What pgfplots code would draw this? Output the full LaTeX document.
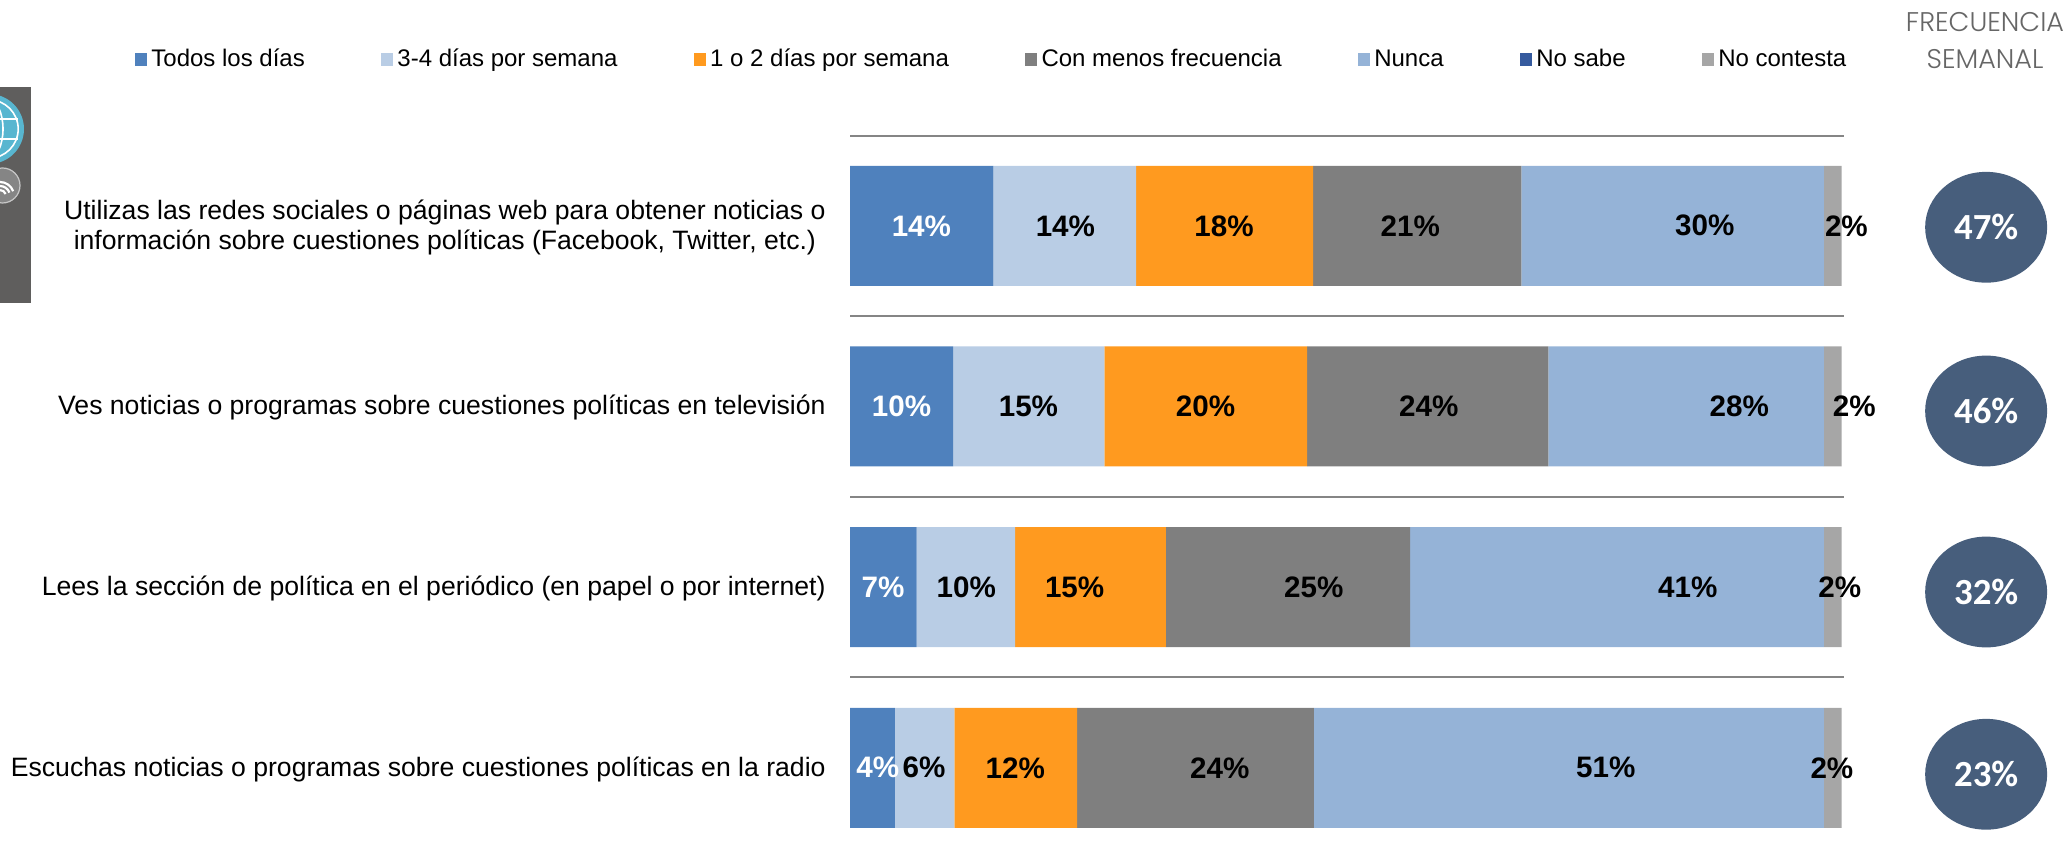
\documentclass[border=0pt]{standalone}
\usepackage{fontspec}
\setmainfont{Liberation Sans}
\newfontfamily\circlefont{Carlito}
\newfontfamily\headfont{Poppins Light}
\usepackage{pgfplots}
\usepackage{pgfplotstable}
\pgfplotsset{compat=1.18}

\definecolor{serA}{HTML}{4F81BD}
\definecolor{serB}{HTML}{B9CDE5}
\definecolor{serC}{HTML}{FF9A1F}
\definecolor{serD}{HTML}{7F7F7F}
\definecolor{serE}{HTML}{95B3D7}
\definecolor{serF}{HTML}{355A9E}
\definecolor{serG}{HTML}{A6A6A6}
\definecolor{oval}{HTML}{475E7C}
\definecolor{iconbg}{HTML}{5F5E5D}
\definecolor{globe}{HTML}{58B6D0}

% ovalo de la columna derecha
\pgfdeclareplotmark{oval}{%
  \pgfpathellipse{\pgfpointorigin}{\pgfqpoint{30.5pt}{0pt}}{\pgfqpoint{0pt}{27.7pt}}%
  \pgfusepathqfill}

% etiquetas movidas a mano: x en %, fila, valor
\pgfplotstableread{
x y lab
7.18 1 14
5.18 2 10
3.32 3 7
2.79 4 4
}\labswhite
\pgfplotstableread{
x y lab
21.67 1 14
37.62 1 18
56.37 1 21
86.00 1 30
100.24 1 2
17.95 2 15
35.76 2 20
58.23 2 24
89.47 2 28
101.04 2 2
11.70 3 10
22.60 3 15
46.66 3 25
84.29 3 41
99.57 3 2
7.44 4 6
16.62 4 12
37.20 4 24
76.04 4 51
98.78 4 2
}\labsblack
\pgfplotstableread{
x y lab
114.3 1.008 47
114.3 2.025 46
114.3 3.027 32
114.3 4.036 23
}\ovals

\begin{document}
\begin{tikzpicture}
\useasboundingbox (0pt,0pt) rectangle (1036pt,428.5pt);

% icono recortado a la izquierda
\begin{scope}
\clip (0pt,277pt) rectangle (15.5pt,385pt);
\fill[iconbg] (0pt,277pt) rectangle (15.5pt,385pt);
\fill[globe] (-5.5pt,364pt) circle (17.5pt);
\draw[white, line width=0.8pt] (-5.5pt,364pt) circle (14.6pt);
\draw[white, line width=0.8pt] (-5.5pt,364pt) ellipse (7pt and 14.6pt);
\draw[white, line width=0.8pt] (-20pt,369pt) -- (9pt,369pt) (-20pt,359pt) -- (9pt,359pt);
\fill[black!48, draw=black!22, line width=0.6pt] (1.25pt,335.75pt) circle (8.75pt);
\draw[white, line width=1.1pt] (2.82pt,331.5pt) arc (20:90:3pt)
  (4.7pt,332.2pt) arc (20:90:5pt) (6.58pt,332.9pt) arc (20:90:7pt);
\end{scope}

\begin{axis}[
    at={(425pt,360.75pt)}, anchor=north west,
    scale only axis, width=497pt, height=361.3pt,
    xbar stacked, bar width=60pt,
    xmin=0, xmax=100, ymin=0.5, ymax=4.5, y dir=reverse,
    hide x axis,
    axis line style={draw=none},
    ytick={1,2,3,4},
    yticklabels={
      {Utilizas las redes sociales o páginas web para obtener noticias o\\información sobre cuestiones políticas (Facebook, Twitter, etc.)},
      {Ves noticias o programas sobre cuestiones políticas en televisión},
      {Lees la sección de política en el periódico (en papel o por internet)},
      {Escuchas noticias o programas sobre cuestiones políticas en la radio}},
    yticklabel style={align=center, inner sep=0pt, xshift=-12pt, yshift=-0.7pt,
      font=\fontsize{13.3}{15.2}\selectfont},
    major tick length=0pt,
    minor ytick={0.5,1.5,2.5,3.5},
    yminorgrids=true,
    minor grid style={draw=black!48, line width=1pt},
    minor tick length=0pt,
    legend image code/.code={\path[#1,draw=none] (0pt,-3.2pt) rectangle (6pt,3.2pt);},
    legend columns=7,
    legend style={draw=none, fill=none, at={(-0.7195,1.105)}, anchor=west,
      /tikz/every even column/.append style={column sep=35.7pt},
      font=\fontsize{12}{14}\selectfont, inner sep=0pt, outer sep=0pt,
      nodes={inner xsep=2.3pt, inner ysep=0pt}},
]
\addplot[fill=serA, draw=none] coordinates {(14.42,1) (10.37,2) (6.71,3) (4.52,4)};
\addplot[fill=serB, draw=none] coordinates {(14.36,1) (15.22,2) (9.90,3) (5.98,4)};
\addplot[fill=serC, draw=none] coordinates {(17.81,1) (20.41,2) (15.16,3) (12.36,4)};
\addplot[fill=serD, draw=none] coordinates {(20.94,1) (24.26,2) (24.59,3) (23.80,4)};
\addplot[fill=serE, draw=none] coordinates {(30.44,1) (27.72,2) (41.61,3) (51.32,4)};
\addplot[fill=serF, draw=none] coordinates {(0,1) (0,2) (0,3) (0,4)};
\addplot[fill=serG, draw=none] coordinates {(1.79,1) (1.79,2) (1.79,3) (1.79,4)};
\legend{Todos los días, 3-4 días por semana, 1 o 2 días por semana, Con menos frecuencia, Nunca, No sabe, No contesta}
\end{axis}

\begin{axis}[
    at={(425pt,360.75pt)}, anchor=north west,
    scale only axis, width=497pt, height=361.3pt,
    xmin=0, xmax=100, ymin=0.5, ymax=4.5, y dir=reverse,
    hide axis, clip=false,
    point meta=explicit symbolic,
    nodes near coords={\pgfplotspointmeta\%},
    nodes near coords align={center},
]
\addplot[only marks, mark size=0pt, draw=none,
  every node near coord/.append style={anchor=center, inner sep=0pt, text=white, font=\fontsize{14.8}{16}\selectfont\bfseries}]
  table[x=x, y=y, meta=lab] {\labswhite};
\addplot[only marks, mark size=0pt, draw=none,
  every node near coord/.append style={anchor=center, inner sep=0pt, text=black, font=\fontsize{14.8}{16}\selectfont\bfseries}]
  table[x=x, y=y, meta=lab] {\labsblack};
\addplot[only marks, mark=oval, mark options={fill=oval, draw=none}, draw=none,
  every node near coord/.append style={anchor=center, inner sep=0pt, text=white, font=\circlefont\fontsize{18.4}{20}\selectfont\bfseries}]
  table[x=x, y=y, meta=lab] {\ovals};
\end{axis}

\node[text=black!60, align=center, inner sep=0pt, font=\headfont\fontsize{13.5}{18.5}\selectfont]
  at (992.5pt,408pt) {FRECUENCIA\\SEMANAL};
\end{tikzpicture}
\end{document}
